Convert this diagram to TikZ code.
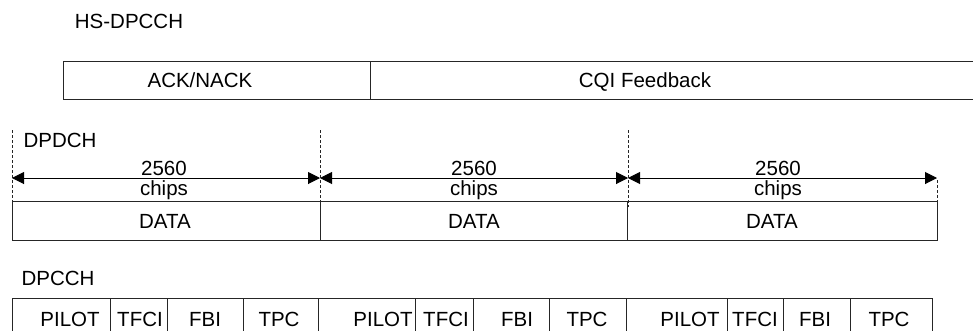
\documentclass[tikz,border=0pt]{standalone}
\usepackage{fontspec}
\setmainfont{Liberation Sans}
\usetikzlibrary{arrows.meta}
\begin{document}
\begin{tikzpicture}[x=1pt,y=-1pt,
  lbl/.style={font=\fontsize{20.5}{24}\selectfont, inner sep=0pt, anchor=base},
  ln/.style={line width=1pt, draw=black!85},
  dsh/.style={line width=0.8pt, draw=black!85, dash pattern=on 3pt off 2pt},
  dim/.style={line width=1pt, {Triangle[length=12pt,width=12pt]}-{Triangle[length=12pt,width=12pt]}}
]
\useasboundingbox (0,0) rectangle (973,330);

% ---------- HS-DPCCH ----------
\node[lbl] (hslbl) at (129,28) {HS-DPCCH};
\draw[ln] (975,61) -- (63,61) -- (63,99) -- (975,99);
\draw[ln] (370,61) -- (370,99);
\node[lbl] (ack) at (200,87) {ACK/NACK};
\node[lbl] (cqi) at (645,87) {CQI Feedback};

% ---------- DPDCH ----------
\node[lbl] (dpdchlbl) at (60,147) {DPDCH};
\draw[dsh] (12,130) -- (12,201);
\draw[dsh] (320,130) -- (320,205);
\draw[dsh] (628,130) -- (628,207);
\draw[dsh] (937,180) -- (937,202);
\coordinate (t0) at (12,178);
\coordinate (t1) at (320,178);
\coordinate (t2) at (628,178);
\coordinate (t3) at (937,178);
\draw[dim] (t0) -- (t1);
\draw[dim] (t1) -- (t2);
\draw[dim] (t2) -- (t3);
\node[lbl] (n1) at (164,175) {2560};
\node[lbl] (c1) at (164,195) {chips};
\node[lbl] (n2) at (474,175) {2560};
\node[lbl] (c2) at (474,195) {chips};
\node[lbl] (n3) at (778,175) {2560};
\node[lbl] (c3) at (778,195) {chips};
\draw[ln] (12,201) rectangle (937,240);
\draw[ln] (320,201) -- (320,240);
\draw[ln] (627,201) -- (627,240);
\node[lbl] (d1) at (165,228) {DATA};
\node[lbl] (d2) at (474,228) {DATA};
\node[lbl] (d3) at (772,228) {DATA};

% ---------- DPCCH ----------
\node[lbl] (dpcchlbl) at (58,285) {DPCCH};
\draw[ln] (12,332) -- (12,298) -- (932,298) -- (932,332);
\foreach \xx in {110,167,243,318,415,473,549,626,727,783,850}
  \draw[ln] (\xx,298) -- (\xx,332);
\node[lbl] (p1) at (70,326.5) {PILOT};
\node[lbl] (tf1) at (140,326.5) {TFCI};
\node[lbl] (f1) at (205,326.5) {FBI};
\node[lbl] (tp1) at (279,326.5) {TPC};
\node[lbl] (p2) at (383,326.5) {PILOT};
\node[lbl] (tf2) at (446,326.5) {TFCI};
\node[lbl] (f2) at (517,326.5) {FBI};
\node[lbl] (tp2) at (587,326.5) {TPC};
\node[lbl] (p3) at (690,326.5) {PILOT};
\node[lbl] (tf3) at (755,326.5) {TFCI};
\node[lbl] (f3) at (815,326.5) {FBI};
\node[lbl] (tp3) at (889,326.5) {TPC};
\end{tikzpicture}
\end{document}
